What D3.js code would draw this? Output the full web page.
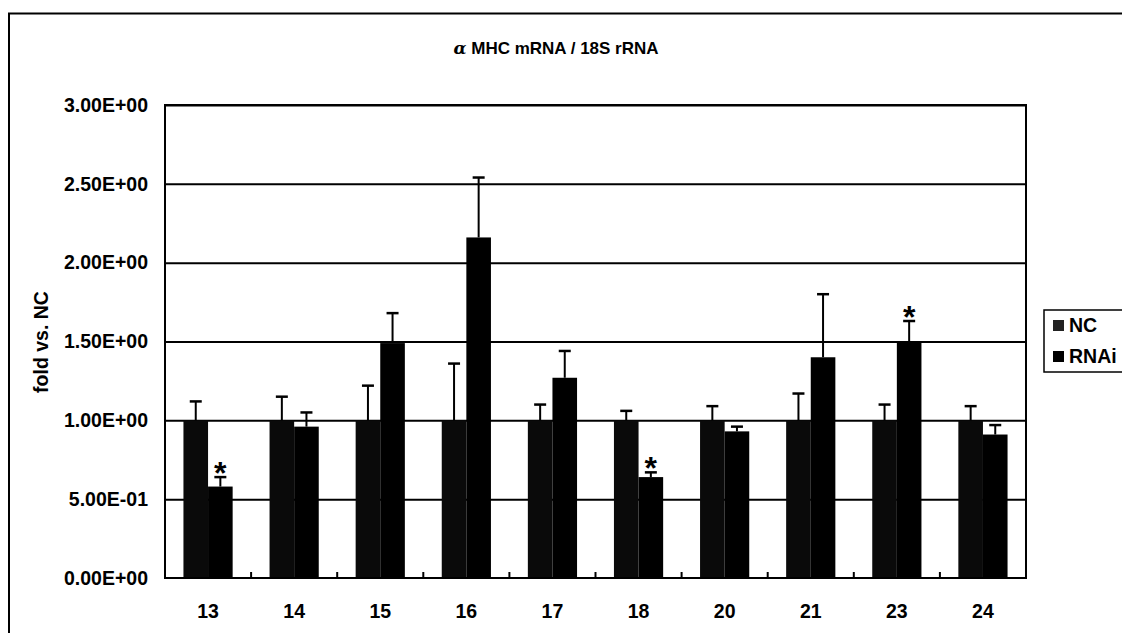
<!DOCTYPE html>
<html>
<head>
<meta charset="utf-8">
<script src="https://cdn.jsdelivr.net/npm/d3@7"></script>
<style>
  body { margin: 0; background: #fff; }
  text { font-family: "Liberation Sans", Arial, sans-serif; }
</style>
</head>
<body>
<div class="graph"></div>
<script>
// categories and series
var categories = ["13", "14", "15", "16", "17", "18", "20", "21", "23", "24"];
var ncValues   = [1.00, 1.00, 1.00, 1.00, 1.00, 1.00, 1.00, 1.00, 1.00, 1.00];
var ncErrors   = [0.12, 0.15, 0.22, 0.36, 0.10, 0.06, 0.09, 0.17, 0.10, 0.09];
var rnaiValues = [0.58, 0.96, 1.49, 2.16, 1.27, 0.64, 0.93, 1.40, 1.50, 0.91];
var rnaiErrors = [0.06, 0.09, 0.19, 0.38, 0.17, 0.03, 0.03, 0.40, 0.13, 0.06];
var starred    = ["13", "18", "23"];
var yTicks     = [0, 0.5, 1.0, 1.5, 2.0, 2.5, 3.0];
var seriesNames = ["NC", "RNAi"];

var width = 1122, height = 633;
var margin = {top: 105, right: 96, bottom: 55, left: 165};
var plot_w = width - margin.left - margin.right;
var plot_h = height - margin.top - margin.bottom;
var fs = 19.5;

var svg = d3.select(".graph").append("svg")
    .attr("width", width)
    .attr("height", height);

// outer chart frame (runs off the right and bottom of the picture)
svg.append("path")
    .attr("d", "M9,640 L9,13.5 L1130,13.5")
    .attr("fill", "none")
    .attr("stroke", "#000")
    .attr("stroke-width", 2);

svg.append("text")
    .attr("x", 556)
    .attr("y", 54)
    .attr("text-anchor", "middle")
    .attr("font-size", 17)
    .attr("font-weight", "bold")
    .html('<tspan font-style="italic" font-family="DejaVu Serif, serif">α</tspan> MHC mRNA / 18S rRNA');

var g = svg.append("g")
    .attr("transform", "translate(" + margin.left + "," + margin.top + ")");

var xScale = d3.scaleBand()
    .domain(categories)
    .range([0, plot_w])
    .paddingInner(0)
    .paddingOuter(0);

// Excel style: gap width 150% of one bar
var barW = xScale.bandwidth() / 3.5;

var yScale = d3.scaleLinear()
    .domain([0, 3])
    .range([plot_h, 0]);

// gridlines
g.append("g")
    .attr("class", "grid")
    .call(d3.axisLeft(yScale).tickValues(yTicks.slice(1)).tickSize(-plot_w).tickFormat(""))
    .call(function(s) { s.select(".domain").remove(); })
    .selectAll("line")
    .attr("stroke", "#000")
    .attr("stroke-width", 2);

// bars
var rows = categories.map(function(c, i) {
    return {cat: c, vals: [
        {name: "NC", v: ncValues[i], e: ncErrors[i], k: 0},
        {name: "RNAi", v: rnaiValues[i], e: rnaiErrors[i], k: 1}
    ]};
});

var groups = g.selectAll(".grp")
    .data(rows)
    .enter().append("g")
    .attr("class", "grp")
    .attr("transform", function(d) { return "translate(" + (xScale(d.cat) + 0.75 * barW) + ",0)"; });

groups.selectAll("rect")
    .data(function(d) { return d.vals; })
    .enter().append("rect")
    .attr("x", function(d) { return d.k * barW; })
    .attr("y", function(d) { return yScale(d.v); })
    .attr("width", barW)
    .attr("height", function(d) { return plot_h - yScale(d.v); })
    .attr("fill", function(d) { return d.k === 0 ? "#0a0a0a" : "#000"; });

// plus-only error bars
var eb = groups.selectAll(".err")
    .data(function(d) { return d.vals; })
    .enter().append("g")
    .attr("class", "err");

eb.append("line")
    .attr("x1", function(d) { return d.k * barW + barW / 2; })
    .attr("x2", function(d) { return d.k * barW + barW / 2; })
    .attr("y1", function(d) { return yScale(d.v); })
    .attr("y2", function(d) { return yScale(d.v + d.e); })
    .attr("stroke", "#000")
    .attr("stroke-width", 2);

eb.append("line")
    .attr("x1", function(d) { return d.k * barW + barW / 2 - 6; })
    .attr("x2", function(d) { return d.k * barW + barW / 2 + 6; })
    .attr("y1", function(d) { return yScale(d.v + d.e); })
    .attr("y2", function(d) { return yScale(d.v + d.e); })
    .attr("stroke", "#000")
    .attr("stroke-width", 2.5);

// significance stars over RNAi
groups.filter(function(d) { return starred.indexOf(d.cat) >= 0; })
    .append("text")
    .attr("x", 1.5 * barW)
    .attr("y", function(d) { return yScale(d.vals[1].v + d.vals[1].e) + 7; })
    .attr("text-anchor", "middle")
    .attr("font-size", 32)
    .attr("font-weight", "bold")
    .text("*");

// plot frame
g.append("rect")
    .attr("x", 0).attr("y", 0)
    .attr("width", plot_w).attr("height", plot_h)
    .attr("fill", "none")
    .attr("stroke", "#000")
    .attr("stroke-width", 2);

// x axis: ticks between categories, pointing up
var xAxis = g.append("g")
    .attr("transform", "translate(0," + plot_h + ")");
xAxis.selectAll(".tk")
    .data(categories.slice(1))
    .enter().append("line")
    .attr("x1", function(d) { return xScale(d); })
    .attr("x2", function(d) { return xScale(d); })
    .attr("y1", 0).attr("y2", -6)
    .attr("stroke", "#000")
    .attr("stroke-width", 2);
xAxis.selectAll(".lbl")
    .data(categories)
    .enter().append("text")
    .attr("x", function(d) { return xScale(d) + xScale.bandwidth() / 2; })
    .attr("y", 40)
    .attr("text-anchor", "middle")
    .attr("font-size", fs)
    .attr("font-weight", "bold")
    .text(function(d) { return d; });

// y axis labels in Excel scientific format
function sci(v) {
    if (v === 0) return "0.00E+00";
    var e = Math.floor(Math.log10(v));
    var m = v / Math.pow(10, e);
    var es = (e < 0 ? "-" : "+") + String(Math.abs(e)).padStart(2, "0");
    return m.toFixed(2) + "E" + es;
}
g.append("g")
    .call(d3.axisLeft(yScale).tickValues(yTicks).tickSize(0).tickPadding(17).tickFormat(sci))
    .call(function(s) { s.select(".domain").remove(); })
    .selectAll("text")
    .attr("font-family", "Liberation Sans, Arial, sans-serif")
    .attr("font-size", fs)
    .attr("font-weight", "bold")
    .attr("fill", "#000");

svg.append("text")
    .attr("transform", "translate(48,342) rotate(-90)")
    .attr("text-anchor", "middle")
    .attr("font-size", fs)
    .attr("font-weight", "bold")
    .text("fold vs. NC");

// legend
var legend = svg.append("g").attr("transform", "translate(1044,310)");
legend.append("rect")
    .attr("x", 0).attr("y", 0)
    .attr("width", 100).attr("height", 62)
    .attr("fill", "#fff")
    .attr("stroke", "#000")
    .attr("stroke-width", 1.5);
seriesNames.forEach(function(name, i) {
    legend.append("rect")
        .attr("x", 9).attr("y", 10 + i * 31)
        .attr("width", 11).attr("height", 11)
        .attr("fill", i === 0 ? "#222" : "#000");
    legend.append("text")
        .attr("x", 25).attr("y", 22 + i * 31)
        .attr("font-size", fs)
        .attr("font-weight", "bold")
        .text(name);
});
</script>
</body>
</html>
